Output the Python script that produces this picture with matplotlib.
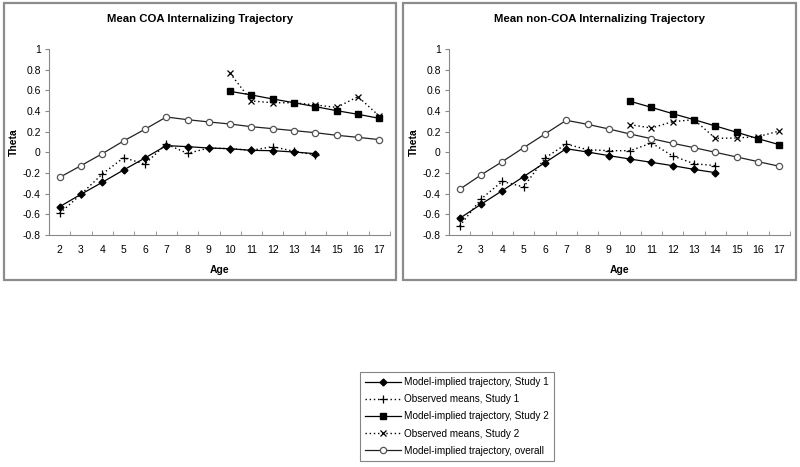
import matplotlib
matplotlib.use("Agg")
import matplotlib.pyplot as plt
from matplotlib.patches import Rectangle

plt.rcParams['font.family'] = ['Liberation Sans', 'DejaVu Sans']

ages = list(range(2, 18))
ages_s1 = list(range(2, 15))
ages_s2 = list(range(10, 18))

# COA panel
coa_overall = [-0.242, -0.129, -0.013, 0.110, 0.223, 0.342, 0.316, 0.294, 0.274,
               0.248, 0.229, 0.210, 0.190, 0.165, 0.145, 0.123]
coa_s1_model = [-0.526, -0.406, -0.290, -0.171, -0.055, 0.065, 0.055, 0.042, 0.035,
                0.019, 0.016, 0.003, -0.013]
coa_s1_obs = [-0.590, -0.406, -0.210, -0.052, -0.113, 0.080, -0.010, 0.042, 0.035,
              0.020, 0.055, 0.010, -0.026]
coa_s2_model = [0.590, 0.555, 0.516, 0.480, 0.442, 0.403, 0.368, 0.329]
coa_s2_obs = [0.765, 0.497, 0.480, 0.480, 0.458, 0.435, 0.539, 0.350]

# non-COA panel
non_overall = [-0.358, -0.219, -0.090, 0.045, 0.177, 0.310, 0.271, 0.226, 0.177,
               0.132, 0.087, 0.045, 0.000, -0.045, -0.090, -0.135]
non_s1_model = [-0.639, -0.503, -0.371, -0.235, -0.100, 0.035, 0.003, -0.032, -0.065,
                -0.097, -0.129, -0.165, -0.197]
non_s1_obs = [-0.713, -0.452, -0.281, -0.335, -0.055, 0.080, 0.026, 0.016, 0.016,
              0.090, -0.035, -0.110, -0.129]
non_s2_model = [0.494, 0.435, 0.374, 0.316, 0.255, 0.194, 0.132, 0.074]
non_s2_obs = [0.268, 0.235, 0.297, 0.316, 0.135, 0.139, 0.152, 0.206]

titles = ["Mean COA Internalizing Trajectory", "Mean non-COA Internalizing Trajectory"]
labels = ["Model-implied trajectory, Study 1", "Observed means, Study 1",
          "Model-implied trajectory, Study 2", "Observed means, Study 2",
          "Model-implied trajectory, overall"]
yticks = [-0.8, -0.6, -0.4, -0.2, 0, 0.2, 0.4, 0.6, 0.8, 1]
ytick_labels = ["-0.8", "-0.6", "-0.4", "-0.2", "0", "0.2", "0.4", "0.6", "0.8", "1"]

W, H = 800, 467
fig = plt.figure(figsize=(8, 4.67), dpi=100)

def fx(px):
    return px / W

def fy(py):
    return 1 - py / H

# panel frames
for x0, x1 in [(4, 396), (403, 796)]:
    fig.patches.append(Rectangle((fx(x0), fy(280)), fx(x1 - x0), (280 - 3) / H,
                                 transform=fig.transFigure, fill=False,
                                 edgecolor="#8c8c8c", linewidth=1.6))

panels = [
    (49, coa_overall, coa_s1_model, coa_s1_obs, coa_s2_model, coa_s2_obs),
    (449, non_overall, non_s1_model, non_s1_obs, non_s2_model, non_s2_obs),
]

TICK_FS = 7.5
handles = None
for i, (ax_x, ov, s1m, s1o, s2m, s2o) in enumerate(panels):
    ax = fig.add_axes([fx(ax_x), fy(235), fx(341), (235 - 49) / H])
    h1, = ax.plot(ages_s1, s1m, color="black", lw=0.9, marker="D", ms=3.5,
                  mfc="black", mec="black")
    h2, = ax.plot(ages_s1, s1o, color="black", lw=1.0, ls=(0, (1, 2)), marker="+",
                  ms=6, mew=0.9)
    h3, = ax.plot(ages_s2, s2m, color="black", lw=0.9, marker="s", ms=5,
                  mfc="black", mec="black")
    h4, = ax.plot(ages_s2, s2o, color="black", lw=1.0, ls=(0, (1, 2)), marker="x",
                  ms=5, mew=0.9)
    h5, = ax.plot(ages, ov, color="#222222", lw=0.9, marker="o", ms=4.5,
                  mfc="white", mec="#555555", mew=0.9)
    handles = [h1, h2, h3, h4, h5]
    ax.set_xlim(1.5, 17.5)
    ax.set_ylim(-0.8, 1.0)
    ax.set_xticks(ages)
    ax.set_xticklabels([str(a) for a in ages], fontsize=TICK_FS)
    ax.set_xticks([a + 0.5 for a in range(1, 18)], minor=True)
    ax.tick_params(axis="x", which="major", length=0, pad=7)
    ax.tick_params(axis="x", which="minor", length=3, direction="in", color="#888888")
    ax.set_yticks(yticks)
    ax.set_yticklabels(ytick_labels, fontsize=TICK_FS)
    ax.tick_params(axis="y", length=3, direction="out", color="#888888", pad=3)
    for s in ["top", "right"]:
        ax.spines[s].set_visible(False)
    for s in ["left", "bottom"]:
        ax.spines[s].set_color("#888888")
        ax.spines[s].set_linewidth(0.8)
    ax.set_xlabel("Age", fontsize=7.5, fontweight="bold")
    ax.set_ylabel("Theta", fontsize=7.5, fontweight="bold")
    ax.xaxis.set_label_coords(0.5, (235 - 265) / 186)
    ax.yaxis.set_label_coords((19 - 49) / 341, 0.5)
    cx = 200 if i == 0 else 600
    fig.text(fx(cx), fy(19), titles[i], ha="center", va="center",
             fontsize=8.2, fontweight="bold")

leg = fig.legend(handles, labels, loc="upper left",
                 bbox_to_anchor=(fx(360), fy(372)), fontsize=7.2, frameon=True,
                 fancybox=False, edgecolor="#666666", handlelength=3.6,
                 handletextpad=0.3, labelspacing=0.72, borderpad=0.5,
                 borderaxespad=0)
leg.get_frame().set_linewidth(0.8)

fig.savefig("out.png", dpi=100)
